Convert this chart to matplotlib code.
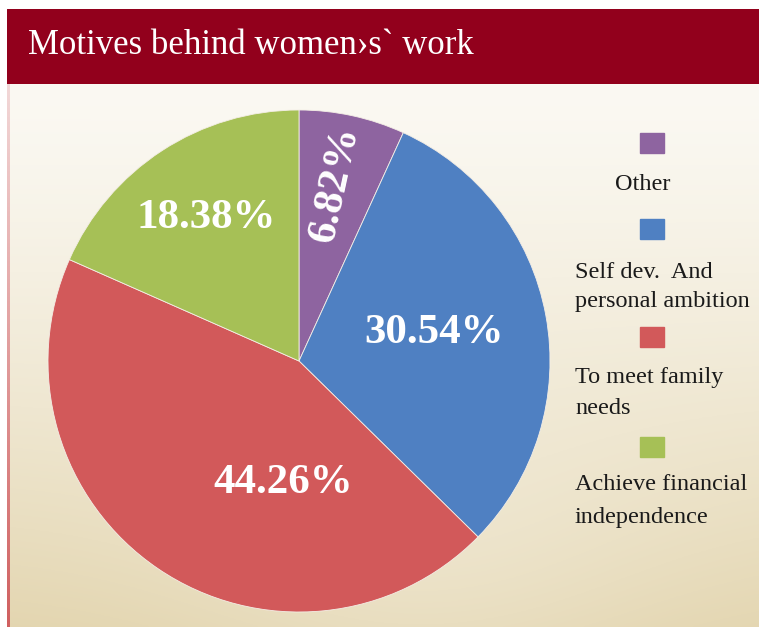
import numpy as np
import matplotlib
matplotlib.use("Agg")
import matplotlib.pyplot as plt
from matplotlib.patches import Rectangle

# Data
categories = ["Other", "Self dev.  And\npersonal ambition", "To meet family\nneeds",
              "Achieve financial\nindependence"]
shares = [6.82, 30.54, 44.26, 18.38]
colors = ["#8E64A0", "#4F80C2", "#D2595A", "#A6C056"]
title = "Motives behind women\u203as` work"

W, H = 759, 627
fig = plt.figure(figsize=(W / 100, H / 100), dpi=100)
fig.patch.set_facecolor("white")

def px(x, y):
    """pixel (from top-left) -> figure fraction"""
    return x / W, 1 - y / H

# Background panel with soft vertical gradient
bg = fig.add_axes([8 / W, 0, 1 - 8 / W, 1 - 84 / H])
bg.set_axis_off()
ny, nx = 300, 300
yy, xx = np.mgrid[0:1:ny * 1j, 0:1:nx * 1j]
top = np.array([0xFB, 0xF9, 0xF3]) / 255
bot = np.array([0xE3, 0xD5, 0xAF]) / 255
t = np.clip(yy ** 1.3, 0, 1)
glow = np.exp(-(((xx - 0.55) / 0.35) ** 2 + ((yy - 0.95) / 0.35) ** 2)) * 0.25
t = np.clip(t - glow, 0, 1)
img = top[None, None, :] * (1 - t[..., None]) + bot[None, None, :] * t[..., None]
bg.imshow(img, aspect="auto", extent=[0, 1, 0, 1], origin="upper")
bg.set_xlim(0, 1)
bg.set_ylim(0, 1)

# Left border strip, pale at top, redder at bottom
strip = fig.add_axes([7 / W, 0, 2.5 / W, 1 - 84 / H])
strip.set_axis_off()
sy = np.linspace(0, 1, 200)[:, None]
c_top = np.array([0xF2, 0xD8, 0xD8]) / 255
c_bot = np.array([0xD0, 0x60, 0x60]) / 255
simg = c_top[None, None, :] * (1 - sy[..., None]) + c_bot[None, None, :] * sy[..., None]
strip.imshow(np.repeat(simg, 2, axis=1), aspect="auto", extent=[0, 1, 0, 1], origin="upper")

# Title bar
tb = fig.add_axes([7 / W, 1 - 84 / H, 1 - 7 / W, 75 / H])
tb.set_axis_off()
tb.add_patch(Rectangle((0, 0), 1, 1, transform=tb.transAxes, color="#92001C"))
fig.text(*px(28, 46), title, color="white", fontsize=25, family="Liberation Serif",
         va="center", ha="left")

# Pie
cx, cy, r = 299, 361, 251
ax = fig.add_axes([(cx - r) / W, 1 - (cy + r) / H, 2 * r / W, 2 * r / H])
ax.set_axis_off()
wedges, _ = ax.pie(shares, colors=colors, startangle=90, counterclock=False,
                   wedgeprops=dict(edgecolor="#f4eee6", linewidth=0.6))
ax.set_xlim(-1, 1)
ax.set_ylim(-1, 1)

# Percentage labels: (radius fraction, angle in degrees, rotation)
label_pos = [(0.72, 78.5, 77.8), (0.55, 11.8, 0), (0.49, -97.5, 0), (0.68, 122.8, 0)]
for v, (rr, ang, rot) in zip(shares, label_pos):
    a = np.deg2rad(ang)
    ax.text(rr * np.cos(a), rr * np.sin(a), f"{v:.2f}%", color="white",
            fontsize=31, fontweight="bold", family="Liberation Serif",
            ha="center", va="center", rotation=rot, rotation_mode="anchor")

# Legend: square above each label
sq_tops = [133, 219, 327, 437]
text_centers = [[185], [272, 302], [378, 408], [485, 517]]
for lab, col, st, tcs in zip(categories, colors, sq_tops, text_centers):
    x0, y0 = px(640, st + 20)
    fig.patches.append(Rectangle((x0, y0), 24 / W, 20 / H, transform=fig.transFigure,
                                 color=col, zorder=5))
    lines = lab.split("\n")
    if len(lines) == 1:
        fig.text(*px(643, tcs[0]), lines[0], fontsize=17.5, family="Liberation Serif",
                 color="#1a1a1a", ha="center", va="center")
    else:
        for ln, yc in zip(lines, tcs):
            fig.text(*px(575, yc), ln, fontsize=17.5, family="Liberation Serif",
                     color="#1a1a1a", ha="left", va="center")

fig.savefig("out.png", dpi=100)
